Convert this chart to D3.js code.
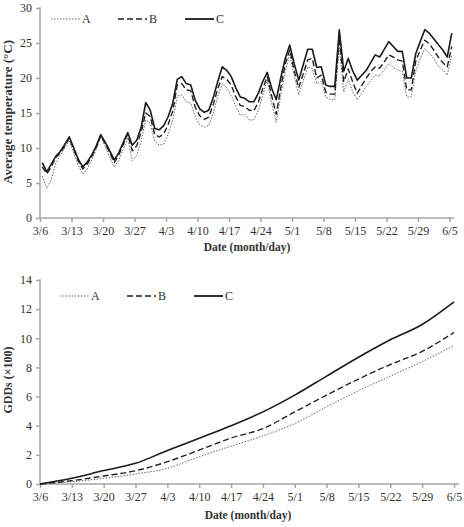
<!DOCTYPE html>
<html>
<head>
<meta charset="utf-8">
<script src="https://cdn.jsdelivr.net/npm/d3@7"></script>
<style>
  body { margin: 0; background: #fff; }
  svg { display: block; }
  text { font-family: "Liberation Serif", "Times New Roman", serif; fill: #333; }
</style>
</head>
<body>
<svg id="chart" width="464" height="527"></svg>
<script>
// week labels shared by both panels
var dateLabels = ["3/6","3/13","3/20","3/27","4/3","4/10","4/17","4/24","5/1","5/8","5/15","5/22","5/29","6/5"];
var seriesNames = ["A","B","C"];

// daily mean temperature (C), 3/6 .. 6/5
var tempA = [6.0,4.2,5.5,7.8,9.0,10.0,11.0,9.3,7.5,6.3,
  7.0,8.3,9.8,11.6,10.2,8.6,7.3,8.2,9.8,11.4,
  8.2,9.0,11.0,14.0,13.5,11.0,10.4,10.6,12.0,14.0,
  17.4,17.6,16.6,16.4,14.5,13.3,13.0,13.2,15.0,17.4,
  19.2,18.6,17.5,16.0,14.7,14.8,14.0,14.0,15.3,17.6,
  19.7,16.3,13.7,17.5,21.0,23.3,20.3,17.6,19.6,21.6,
  21.4,19.2,19.5,17.3,16.9,16.9,24.5,18.0,19.8,18.0,
  16.9,17.8,18.8,19.6,20.4,20.3,21.2,22.1,21.5,21.1,
  21.0,17.3,17.3,21.0,22.8,24.2,23.5,22.8,21.7,21.2,
  20.4,23.3];
var tempB = [7.3,6.3,7.3,8.6,9.3,10.3,11.4,9.8,8.1,7.0,
  7.7,8.8,10.1,11.8,10.6,9.3,7.9,9.0,10.5,12.0,
  9.6,10.3,12.3,15.0,14.5,11.9,11.6,12.0,13.4,15.3,
  19.0,19.2,18.3,18.2,15.8,14.6,14.1,14.4,16.2,18.5,
  20.2,19.8,19.0,17.3,16.1,15.9,15.4,15.3,16.5,18.5,
  20.2,17.4,14.8,18.6,22.0,24.0,21.0,18.6,20.6,22.6,
  22.8,20.0,20.4,18.0,17.7,17.7,25.7,19.5,21.3,19.4,
  17.8,18.9,20.0,20.9,21.6,21.4,22.3,23.3,23.0,22.6,
  22.4,18.3,18.3,22.4,24.0,25.4,24.9,24.0,23.0,22.2,
  21.6,24.5];
var tempC = [7.9,6.6,7.7,8.8,9.5,10.5,11.6,10.0,8.4,7.3,
  8.0,9.0,10.3,11.9,10.8,9.6,8.3,9.3,10.8,12.2,
  10.4,11.1,13.0,16.5,15.4,12.8,12.6,13.2,14.5,16.4,
  19.8,20.2,19.2,19.0,16.8,15.6,15.1,15.4,17.2,19.5,
  21.6,21.1,20.2,18.6,17.3,17.1,16.6,16.6,17.8,19.5,
  20.8,18.5,16.9,20.0,22.8,24.7,22.0,19.7,21.9,24.1,
  24.1,21.5,21.6,19.0,18.8,18.8,26.9,21.0,22.8,21.0,
  19.7,20.4,21.1,22.2,23.3,23.0,24.1,25.2,24.5,23.8,
  23.8,20.0,20.0,23.5,25.2,26.9,26.4,25.6,24.8,24.0,
  23.0,26.4];

// accumulated GDDs (x100), read at each week label
var gddA = [0,0.16,0.39,0.69,1.08,1.87,2.6,3.3,4.15,5.3,6.4,7.4,8.4,9.5];
var gddB = [0,0.23,0.55,0.91,1.53,2.33,3.15,3.8,4.95,6.1,7.2,8.2,9.1,10.4];
var gddC = [0,0.39,0.92,1.42,2.3,3.14,4.0,4.95,6.1,7.4,8.7,9.9,10.95,12.5];

var tempTicks = [0,5,10,15,20,25,30];
var gddTicks = [0,2,4,6,8,10,12,14];

var styles = {
  A: { stroke: "#666", width: 1, dash: "1.5,1.5" },
  B: { stroke: "#222", width: 1.4, dash: "6,3" },
  C: { stroke: "#1a1a1a", width: 1.6, dash: null }
};

var svg = d3.select("#chart");

function drawPanel(opt) {
  var g = svg.append("g");
  var x = d3.scaleLinear().domain(opt.xDomain).range(opt.xRange);
  var y = d3.scaleLinear().domain(opt.yDomain).range(opt.yRange);

  // y axis
  var yAxis = g.append("g").attr("transform", "translate(" + opt.xRange[0] + ",0)")
    .call(d3.axisLeft(y).tickValues(opt.yTicks).tickSize(4).tickPadding(4));
  // x axis
  var xAxis = g.append("g").attr("transform", "translate(0," + opt.yRange[0] + ")")
    .call(d3.axisBottom(x).tickValues(d3.range(dateLabels.length).map(function(i){ return i * 7; }))
      .tickFormat(function(d){ return dateLabels[d / 7]; }).tickSize(4).tickPadding(4));
  xAxis.select(".domain").attr("d", "M" + opt.xRange[0] + ",0H" + opt.axisEnd);
  yAxis.select(".domain").attr("d", "M0," + opt.yRange[0] + "V" + (opt.yRange[1] - 1));
  [xAxis, yAxis].forEach(function(a){
    a.selectAll(".domain, line").attr("stroke", "#a6a6a6").attr("stroke-width", 1.5);
    a.selectAll("text").attr("font-size", 12).attr("fill", "#333")
      .attr("font-family", "Liberation Serif, serif");
  });

  var line = d3.line().x(function(d){ return x(d[0]); }).y(function(d){ return y(d[1]); });
  if (opt.curve) line.curve(opt.curve);

  opt.series.forEach(function(s){
    var st = styles[s.name];
    g.append("path")
      .datum(s.values.map(function(v, i){ return [opt.xOf(i), v]; }))
      .attr("d", line)
      .attr("fill", "none")
      .attr("stroke", st.stroke)
      .attr("stroke-width", st.width)
      .attr("stroke-dasharray", st.dash)
      .attr("stroke-linejoin", "round");
  });

  // legend
  seriesNames.forEach(function(n, i){
    var st = styles[n];
    var lx = opt.legendX + i * 67;
    g.append("line").attr("x1", lx).attr("x2", lx + 29)
      .attr("y1", opt.legendY).attr("y2", opt.legendY)
      .attr("stroke", st.stroke).attr("stroke-width", st.width + 0.2)
      .attr("stroke-dasharray", st.dash);
    g.append("text").attr("x", lx + 31).attr("y", opt.legendY + 4)
      .attr("font-size", 12).text(n);
  });

  // titles
  g.append("text")
    .attr("transform", "translate(" + opt.yTitleX + "," + opt.yTitleY + ") rotate(-90)")
    .attr("text-anchor", "middle").attr("font-weight", "bold").attr("font-size", opt.yTitleSize)
    .attr("fill", "#222").text(opt.yTitle);
  g.append("text")
    .attr("x", opt.xTitleX).attr("y", opt.xTitleY)
    .attr("text-anchor", "middle").attr("font-weight", "bold").attr("font-size", 11.5)
    .attr("fill", "#222").text("Date (month/day)");
}

drawPanel({
  xDomain: [0, 92], xRange: [40, 454], axisEnd: 454,
  yDomain: [0, 30], yRange: [218, 8], yTicks: tempTicks,
  xOf: function(i){ return i + 0.5; },
  series: [{name: "A", values: tempA}, {name: "B", values: tempB}, {name: "C", values: tempC}],
  legendX: 51, legendY: 19,
  yTitle: "Average temperature (°C)", yTitleSize: 13, yTitleX: 12, yTitleY: 112,
  xTitleX: 247, xTitleY: 251
});

drawPanel({
  xDomain: [0, 91], xRange: [40, 454], axisEnd: 459,
  yDomain: [0, 14], yRange: [484, 280], yTicks: gddTicks,
  xOf: function(i){ return i * 7; },
  curve: d3.curveMonotoneX,
  series: [{name: "A", values: gddA}, {name: "B", values: gddB}, {name: "C", values: gddC}],
  legendX: 60, legendY: 296,
  yTitle: "GDDs (×100)", yTitleSize: 12, yTitleX: 12, yTitleY: 380,
  xTitleX: 248, xTitleY: 519
});
</script>
</body>
</html>
